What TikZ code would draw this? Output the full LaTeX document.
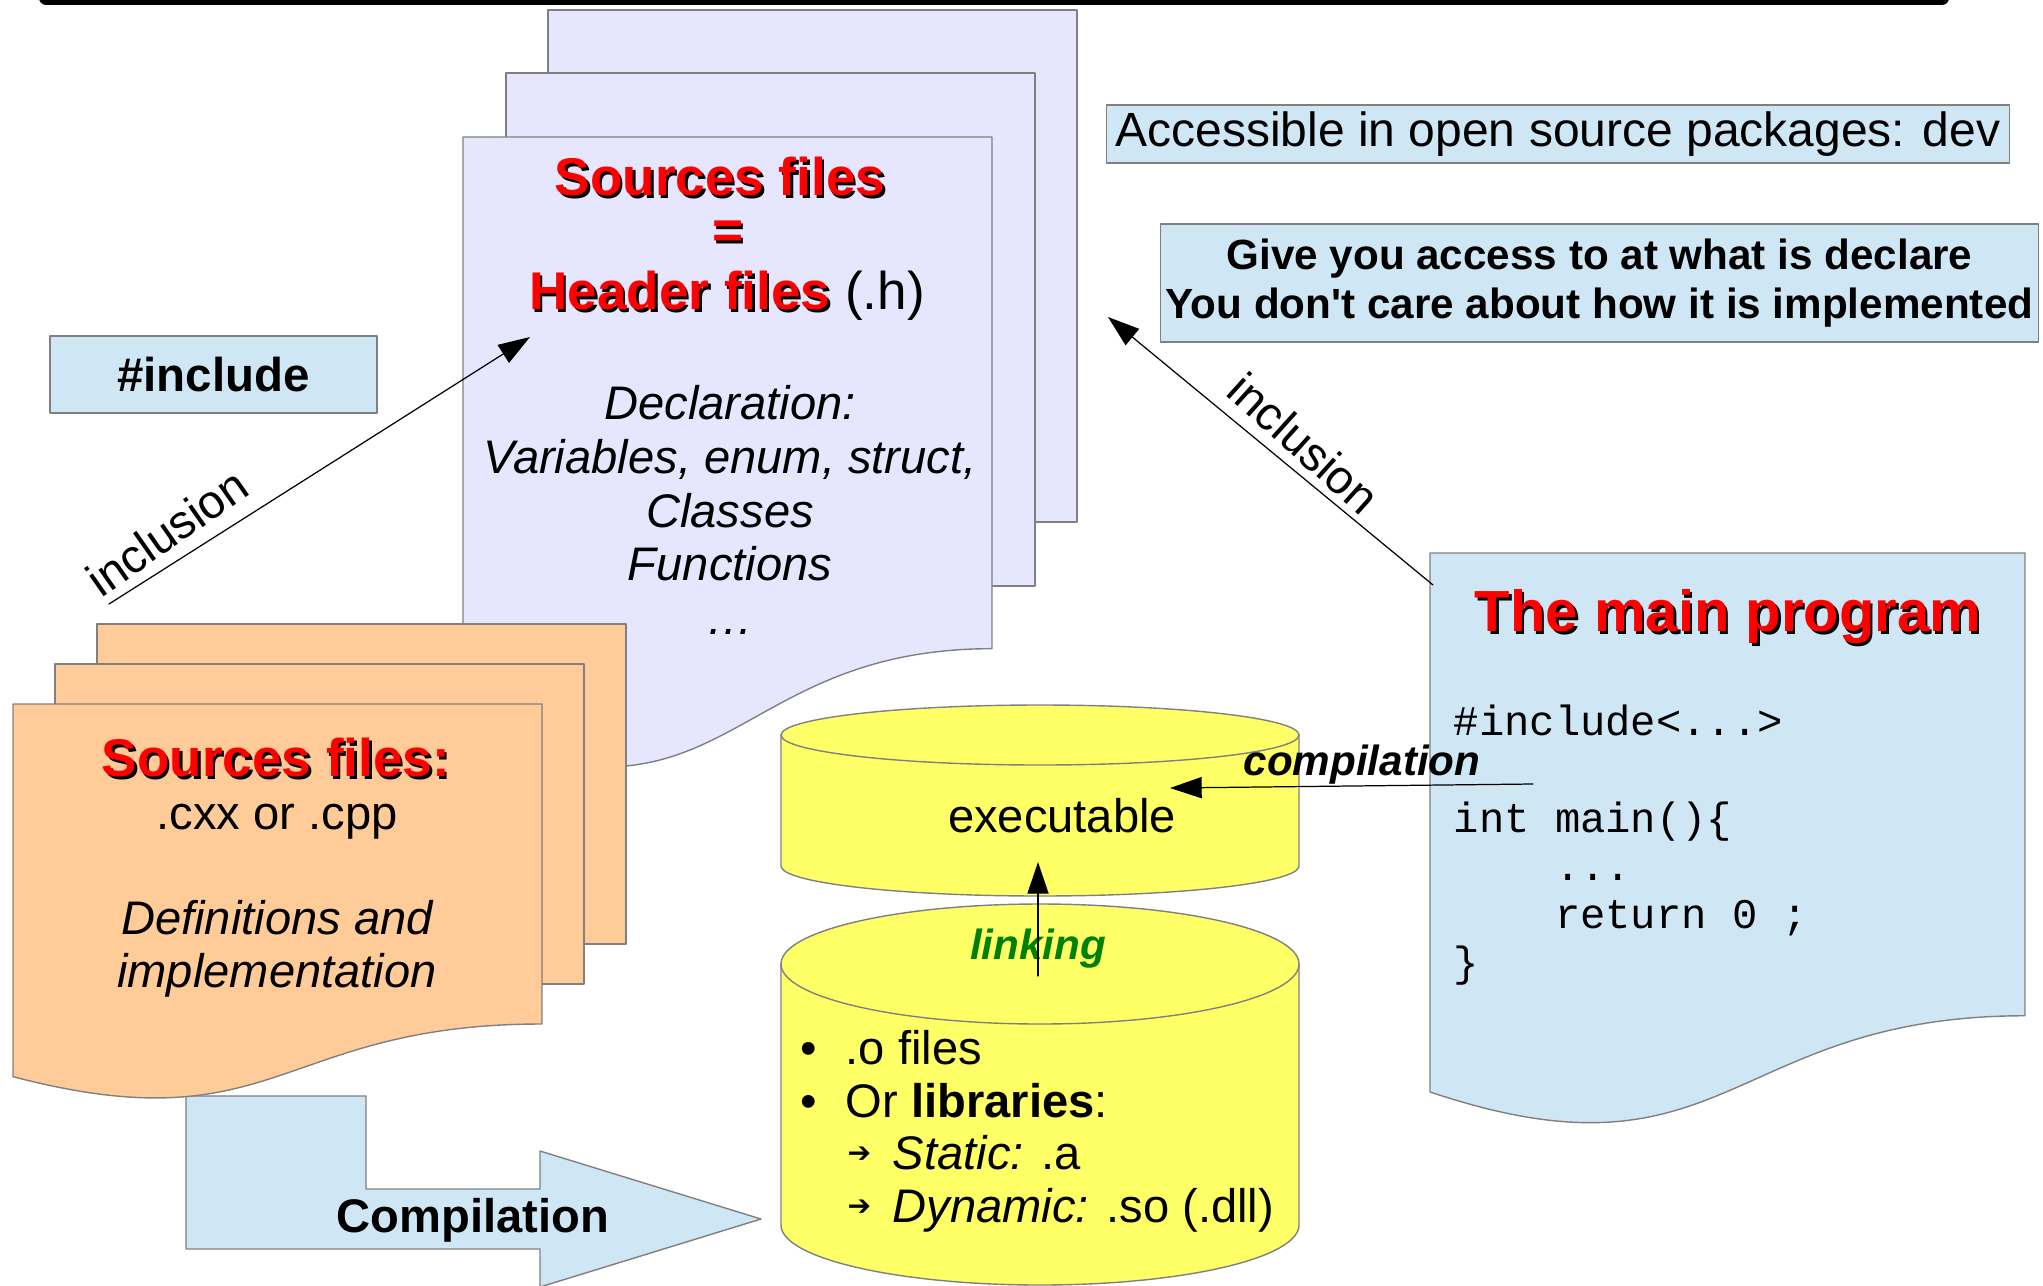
\documentclass[tikz,border=0pt]{standalone}
\usepackage{fontspec}
\setmainfont{Liberation Sans}
\setmonofont{Liberation Mono}
\newfontfamily\symbfont{DejaVu Sans}
\usetikzlibrary{arrows.meta}

\definecolor{headerfill}{RGB}{230,230,255}
\definecolor{sourcefill}{RGB}{255,204,153}
\definecolor{notefill}{RGB}{207,231,245}
\definecolor{binfill}{RGB}{255,255,102}
\definecolor{edgegray}{RGB}{128,128,128}
\definecolor{linkgreen}{RGB}{0,128,0}

\newcommand\bodysize{\fontsize{13.4pt}{15.2pt}\selectfont}
% sheet of paper with a wavy lower edge: style, x, y, width, height
\newcommand\docsheet[5]{%
  \filldraw[#1,shift={(#2,#3)},xscale=#4,yscale=#5]
    (0,0) -- (1,0) -- (1,0.802) .. controls (0.5,0.802) and (0.5,1.1075) .. (0,0.934) -- cycle;}
% red title with a black drop shadow
\newcommand\shadowtext[1]{\leavevmode\rlap{\kern0.7pt\raisebox{-0.7pt}{\color{black}#1}}{\color{red}#1}}

\begin{document}
\begin{tikzpicture}[line cap=round,line join=round,>={Triangle[length=9pt,width=6pt]},x=0.01cm,y=-0.01cm,
  every node/.style={inner sep=0pt},
  sheet/.style={draw=edgegray,line width=0.4pt},
  note/.style={draw=edgegray,fill=notefill,line width=0.4pt},
  conn/.style={->,line width=0.35pt},
  body/.style={font=\bodysize},
  codeline/.style={anchor=base west,font=\ttfamily\fontsize{12pt}{13.8pt}\selectfont},
  listline/.style={anchor=base west,font=\bodysize}]
\useasboundingbox (0,0) rectangle (2043,1285);
\fill[rounded corners=2pt] (39,-10) rectangle (1949,5);
%
% compilation block arrow
\filldraw[note] (186,1096) -- (366,1096) -- (366,1189) -- (540,1189) -- (540,1151) -- (761,1219)
  -- (540,1287) -- (540,1249) -- (186,1249) -- cycle;
\node[font=\bfseries\bodysize] (compil) at (473,1220) {Compilation};
%
% header files
\filldraw[sheet,fill=headerfill] (548,10) rectangle (1077,522);
\filldraw[sheet,fill=headerfill] (506,73) rectangle (1035,586);
\docsheet{sheet,fill=headerfill}{463}{137}{529}{638}
%
% source files
\filldraw[sheet,fill=sourcefill] (97,624) rectangle (626,944);
\filldraw[sheet,fill=sourcefill] (55,664) rectangle (584,984);
\docsheet{sheet,fill=sourcefill}{13}{704}{529}{399}
%
% executable and objects
\filldraw[sheet,fill=binfill] (781,735) -- (781,866) arc (180:0:259 and 30) -- (1299,735) arc (0:-180:259 and 30) -- cycle;
\draw[sheet] (781,735) arc (180:0:259 and 30);
\filldraw[sheet,fill=binfill] (781,964) -- (781,1225) arc (180:0:259 and 60) -- (1299,964) arc (0:-180:259 and 60) -- cycle;
\draw[sheet] (781,964) arc (180:0:259 and 60);
%
% main program
\docsheet{sheet,fill=notefill}{1430}{553}{595}{577}
%
\node[note,minimum width=9.02cm,minimum height=0.58cm,font=\fontsize{13.65pt}{15.5pt}\selectfont] (devpkg) at (1558,134) {Accessible in open source packages: dev};
\node[note,minimum width=8.77cm,minimum height=1.18cm,align=center,font=\bfseries\fontsize{12pt}{13.7pt}\selectfont] (access) at (1599.5,283) {Give you access to at what is declare\\You don\textquotesingle t care about how it is implemented};
\node[note,minimum width=3.27cm,minimum height=0.77cm,font=\bfseries\fontsize{13.5pt}{15pt}\selectfont] (incl) at (213.5,374.5) {\#include};
%
\node[font=\bfseries\fontsize{15.1pt}{17pt}\selectfont] (hdrtitle) at (720,178) {\shadowtext{Sources files}};
\node[font=\bfseries\fontsize{15.1pt}{17pt}\selectfont] (hdreq) at (728,236) {\shadowtext{=}};
\node[font=\bfseries\fontsize{15.1pt}{17pt}\selectfont] (hdrname) at (727,296) {\shadowtext{Header files} \textmd{(.h)}};
\node[align=center,font=\itshape\fontsize{13.4pt}{15.3pt}\selectfont] (decl) at (730,510) {Declaration:\\Variables, enum, struct,\\Classes\\Functions\\\ldots};
%
\node[font=\bfseries\fontsize{15.1pt}{17pt}\selectfont] (srctitle) at (276,759) {\shadowtext{Sources files:}};
\node[body] (srcext) at (277,822) {.cxx or .cpp};
\node[align=center,font=\itshape\fontsize{13.4pt}{15.1pt}\selectfont] (defs) at (277,949) {Definitions and\\implementation};
%
\node[body] (exe) at (1062,816) {executable};
\node[listline] (objA) at (800,1064) {\textbullet};
\node[listline] (objB) at (845,1064) {.o files};
\node[listline] (libA) at (800,1117) {\textbullet};
\node[listline] (libB) at (845,1117) {Or \textbf{libraries}:};
\node[listline,font=\symbfont\fontsize{8pt}{9pt}\selectfont] (stA) at (847,1162) {➔};
\node[listline] (stB) at (892,1169) {\textit{Static:} .a};
\node[listline,font=\symbfont\fontsize{8pt}{9pt}\selectfont] (dyA) at (847,1215) {➔};
\node[listline] (dyB) at (892,1222) {\textit{Dynamic:} .so (.dll)};
%
\node[font=\bfseries\fontsize{16.5pt}{19pt}\selectfont] (maintitle) at (1728,618) {\shadowtext{The main program}};
\node[codeline] (c1) at (1453,735) {\#include<...>};
\node[codeline] (c2) at (1453,832) {int main()\{};
\node[codeline] (c3) at (1453,880) {\ \ \ \ ...};
\node[codeline] (c4) at (1453,928) {\ \ \ \ return 0 ;};
\node[codeline] (c5) at (1453,976) {\}};
%
% connectors
\coordinate (srcfoot) at (109,604);
\coordinate (hdrleft) at (530,337);
\draw[conn] (srcfoot) -- (hdrleft);
\node[rotate=35,body] (inclL) at (167,532) {inclusion};
\coordinate (maincorner) at (1433,585);
\coordinate (hdrright) at (1108,317);
\draw[conn] (maincorner) -- (hdrright);
\node[rotate=-42,body] (inclR) at (1304,443) {inclusion};
\coordinate (codeout) at (1533,784);
\coordinate (exein) at (1170,788);
\node[font=\bfseries\itshape\fontsize{12pt}{14pt}\selectfont] (compilL) at (1362,765) {compilation};
\draw[conn] (codeout) -- (exein);
\coordinate (objout) at (1038,976);
\coordinate (exebot) at (1038,862);
\node[font=\bfseries\itshape\fontsize{12pt}{14pt}\selectfont,text=linkgreen] (linkL) at (1038,949) {linking};
\draw[conn] (objout) -- (exebot);
\end{tikzpicture}
\end{document}
